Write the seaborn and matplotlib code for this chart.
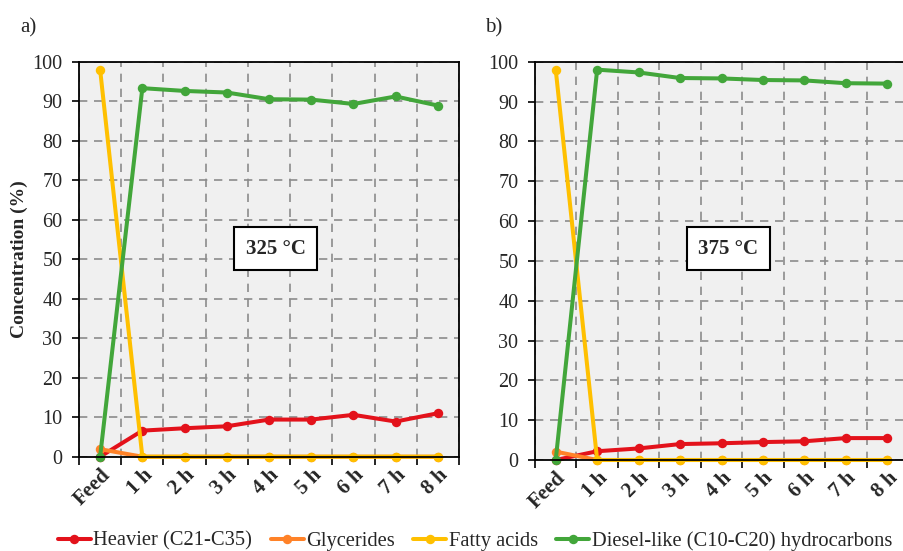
import matplotlib
matplotlib.use("Agg")
import matplotlib.pyplot as plt
from matplotlib.lines import Line2D
import seaborn as sns
import pandas as pd
import numpy as np

categories = ["Feed", "1 h", "2 h", "3 h", "4 h", "5 h", "6 h", "7 h", "8 h"]

# Panel a) 325 °C
a_heavier = [0, 6.6, 7.2, 7.7, 9.4, 9.4, 10.6, 8.9, 11.0]
a_glycerides = [1.9, 0, 0, 0, 0, 0, 0, 0, 0]
a_fatty = [98, 0, 0, 0, 0, 0, 0, 0, 0]
a_diesel = [0, 93.3, 92.6, 92.2, 90.5, 90.4, 89.3, 91.2, 88.9]

# Panel b) 375 °C
b_heavier = [0, 2.2, 2.9, 4.0, 4.2, 4.5, 4.7, 5.5, 5.5]
b_glycerides = [2.1, 0, 0, 0, 0, 0, 0, 0, 0]
b_fatty = [98, 0, 0, 0, 0, 0, 0, 0, 0]
b_diesel = [0, 98.0, 97.3, 95.9, 95.8, 95.4, 95.3, 94.6, 94.5]

series_names = ["Heavier (C21-C35)", "Glycerides", "Fatty acids",
                "Diesel-like (C10-C20) hydrocarbons"]
colors = ["#E3121B", "#FF8228", "#FFC000", "#42A63A"]
temps = ["325 °C", "375 °C"]
temp_pos = [(4.16, 52.7), (4.16, 53.0)]
panel_labels = ["a)", "b)"]

sns.set_theme(style="white")
plt.rcParams["font.family"] = ["Liberation Serif", "DejaVu Serif"]

fig = plt.figure(figsize=(9.04, 5.51), dpi=100)
W, H = 904, 551
rects = [(79, 61.7, 380, 456.7 - 61.7), (535, 61.7, 373, 460 - 61.7)]
axes = [fig.add_axes([x / W, 1 - (y + h) / H, w / W, h / H]) for x, y, w, h in rects]

data_sets = [[a_heavier, a_glycerides, a_fatty, a_diesel],
             [b_heavier, b_glycerides, b_fatty, b_diesel]]
xpos = np.arange(len(categories))

for k, ax in enumerate(axes):
    ax.set_facecolor("#F0F0F0")
    for name, vals, col in zip(series_names, data_sets[k], colors):
        df = pd.DataFrame({"x": xpos, "y": vals})
        sns.lineplot(data=df, x="x", y="y", ax=ax, color=col, lw=2.9,
                     marker="o", markersize=6.8, markeredgewidth=0,
                     markeredgecolor=col, clip_on=False, legend=False)
    ax.set_xlim(-0.5, 8.5)
    ax.set_ylim(0, 100)
    ax.set_yticks(np.arange(0, 101, 10))
    ax.set_xticks(np.arange(-0.5, 8.6, 1))
    ax.set_xticklabels([])
    ax.set_xticks(xpos, minor=True)
    ax.set_xticklabels(categories, minor=True, rotation=45, ha="right",
                       rotation_mode="anchor", fontweight="bold", fontsize=15)
    ax.tick_params(axis="x", which="minor", length=0, pad=6)
    ax.tick_params(axis="x", which="major", length=6, width=1.2, direction="out",
                   color="black", bottom=True)
    ax.tick_params(axis="y", length=5, width=1.2, direction="out", color="black",
                   labelsize=14.5, left=True, pad=7)
    ax.grid(True, which="major", color="#8C8C8C", linestyle=(0, (5, 4)), lw=1.2)
    ax.set_axisbelow(True)
    for s in ax.spines.values():
        s.set_color("black")
        s.set_linewidth(1.3)
    ax.set_xlabel("")
    ax.set_ylabel("")
    ax.text(temp_pos[k][0], temp_pos[k][1], temps[k], fontsize=15, fontweight="bold",
            ha="center", va="center",
            bbox=dict(boxstyle="square,pad=0.55", fc="white", ec="black", lw=1.5))

axes[0].set_ylabel("Concentration (%)", fontsize=14, fontweight="bold", labelpad=3)

fig.text(20 / W, 1 - 28 / H, panel_labels[0], fontsize=15, ha="left", va="center")
fig.text(485 / W, 1 - 28 / H, panel_labels[1], fontsize=15, ha="left", va="center")

handles = [Line2D([0], [0], color=c, lw=2.9, marker="o", markersize=6.8, markeredgewidth=0)
           for c in colors]
fig.legend(handles, series_names, loc="center", bbox_to_anchor=(475 / W, 1 - 541 / H),
           ncol=4, frameon=False, fontsize=14.8, handlelength=1.6, handletextpad=0.12,
           columnspacing=0.9, borderpad=0.1)

fig.savefig("out.png", dpi=100)
